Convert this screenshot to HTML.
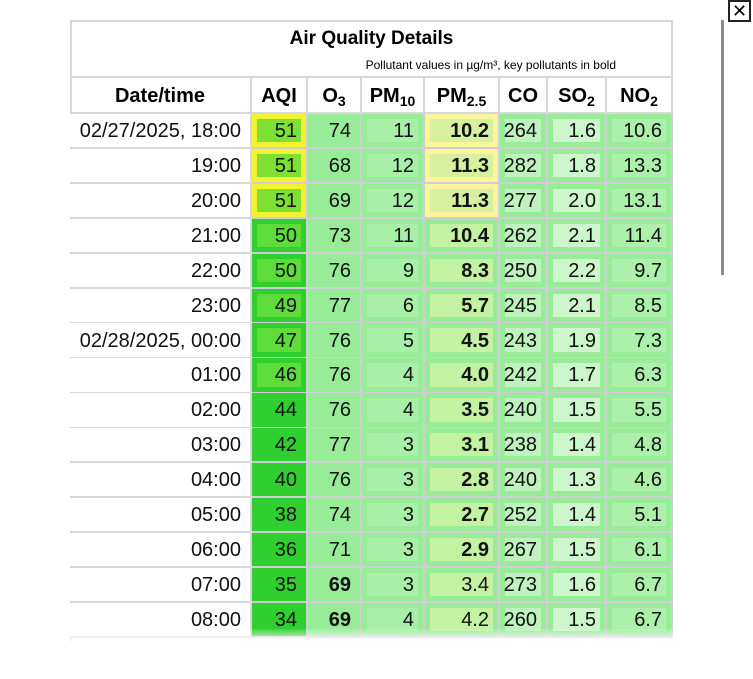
<!DOCTYPE html>
<html><head><meta charset="utf-8">
<style>
body{margin:0;width:753px;height:679px;background:#fff;position:relative;overflow:hidden;font-family:"Liberation Sans",sans-serif;}
.abs{position:absolute;box-sizing:border-box;}
.cell{position:absolute;box-sizing:border-box;border-right:2px solid #d0ccd8;border-bottom:2px solid #d0ccd8;}
.inner{position:absolute;left:5px;right:5px;top:5px;bottom:5px;}
.txt{position:absolute;right:9px;top:2px;bottom:0;display:flex;align-items:center;font-size:20px;color:#111;}
.hdr{position:absolute;box-sizing:border-box;border-right:2px solid #d8d8d8;border-bottom:2px solid #d8d8d8;font-weight:bold;font-size:20px;display:flex;align-items:center;justify-content:center;padding-top:2px;}
.sb{font-size:14px;position:relative;top:5px;}
</style></head><body>
<div class="abs" style="left:70px;top:20px;width:603px;height:640px;border-left:2px solid #d8d8d8;border-top:2px solid #d8d8d8;border-right:2px solid #d8d8d8;"></div>
<div class="abs" style="left:72px;top:28px;width:599px;text-align:center;font-weight:bold;font-size:19px;">Air Quality Details</div>
<div class="abs" style="left:72px;top:58px;width:544px;text-align:right;font-size:12px;">Pollutant values in µg/m³, key pollutants in bold</div>
<div class="abs" style="left:70px;top:76px;width:603px;height:2px;background:#d8d8d8;"></div>
<div id="tbl"></div>
<div class="abs" style="left:60px;top:628px;width:630px;height:51px;background:linear-gradient(rgba(255,255,255,0),#fff 30%,#fff);"></div>
<div class="abs" style="left:721px;top:20px;width:3px;height:255px;background:#8a8a8a;"></div>
<div class="abs" style="left:728px;top:0;width:23px;height:22px;border:2px solid #222;font-size:18px;line-height:18px;text-align:center;">✕</div>
<script>
const times=["02/27/2025, 18:00","19:00","20:00","21:00","22:00","23:00","02/28/2025, 00:00","01:00","02:00","03:00","04:00","05:00","06:00","07:00","08:00"];
const aqi=[51,51,51,50,50,49,47,46,44,42,40,38,36,35,34];
const o3=[74,68,69,73,76,77,76,76,76,77,76,74,71,69,69];
const pm10=[11,12,12,11,9,6,5,4,4,3,3,3,3,3,4];
const pm25=["10.2","11.3","11.3","10.4","8.3","5.7","4.5","4.0","3.5","3.1","2.8","2.7","2.9","3.4","4.2"];
const co=[264,282,277,262,250,245,243,242,240,238,240,252,267,273,260];
const so2=["1.6","1.8","2.0","2.1","2.2","2.1","1.9","1.7","1.5","1.4","1.3","1.4","1.5","1.6","1.5"];
const no2=["10.6","13.3","13.1","11.4","9.7","8.5","7.3","6.3","5.5","4.8","4.6","5.1","6.1","6.7","6.7"];
const cols=[{n:"Date/time",x:70,w:182},{n:"AQI",x:252,w:56},{n:"O<span class='sb'>3</span>",x:308,w:54},{n:"PM<span class='sb'>10</span>",x:362,w:63},{n:"PM<span class='sb'>2.5</span>",x:425,w:75},{n:"CO",x:500,w:48},{n:"SO<span class='sb'>2</span>",x:548,w:59},{n:"NO<span class='sb'>2</span>",x:607,w:66}];
const names=["date","aqi","o3","pm10","pm25","co","so2","no2"];
const tbl=document.getElementById('tbl');
const top0=114,rh=34.9;
cols.forEach((c,j)=>{const h=document.createElement('div');h.className='hdr';


h.style.left=c.x+'px';h.style.top='78px';h.style.width=c.w+'px';h.style.height=(top0-78)+'px';h.innerHTML=c.n;tbl.appendChild(h);});
for(let i=0;i<times.length;i++){
 const hi=aqi[i]>50;
 const pm25Bold=parseFloat(pm25[i])>=2.7;
 const vals=[times[i],aqi[i],o3[i],pm10[i],pm25[i],co[i],so2[i],no2[i]];
 const outer=["#fff",hi?"#f2f230":"#30cf30","#98ec98","#98ec98",hi?"#fbf59a":"#98ec98","#98ec98","#98ec98","#98ec98"];
 const aqiInner=hi?"#7de033":(aqi[i]>=46?"#5ddc3a":"#30cf30");
 const inner=[null,aqiInner,null,"#a8f0a8",hi?"#d6f0a0":"#c2f2a2","#bff2bf","#cdf6cd","#acf0ac"];
 const bold=[false,false,i>=13,false,pm25Bold&&i<13,false,false,false];
 for(let j=0;j<8;j++){const c=cols[j];const d=document.createElement('div');d.className='cell';
  
  
  d.style.left=c.x+'px';d.style.top=(top0+i*rh)+'px';d.style.width=c.w+'px';d.style.height=(rh+0.5)+'px';d.style.background=outer[j];
  if(j===0)d.style.borderColor='#d8d8d8';
  if(inner[j]){const n=document.createElement('div');n.className='inner';n.style.background=inner[j];d.appendChild(n);}
  const t=document.createElement('div');t.className='txt';t.textContent=vals[j];
  if(bold[j])t.style.fontWeight='bold';
  d.appendChild(t);tbl.appendChild(d);}
}
</script>
</body></html>
